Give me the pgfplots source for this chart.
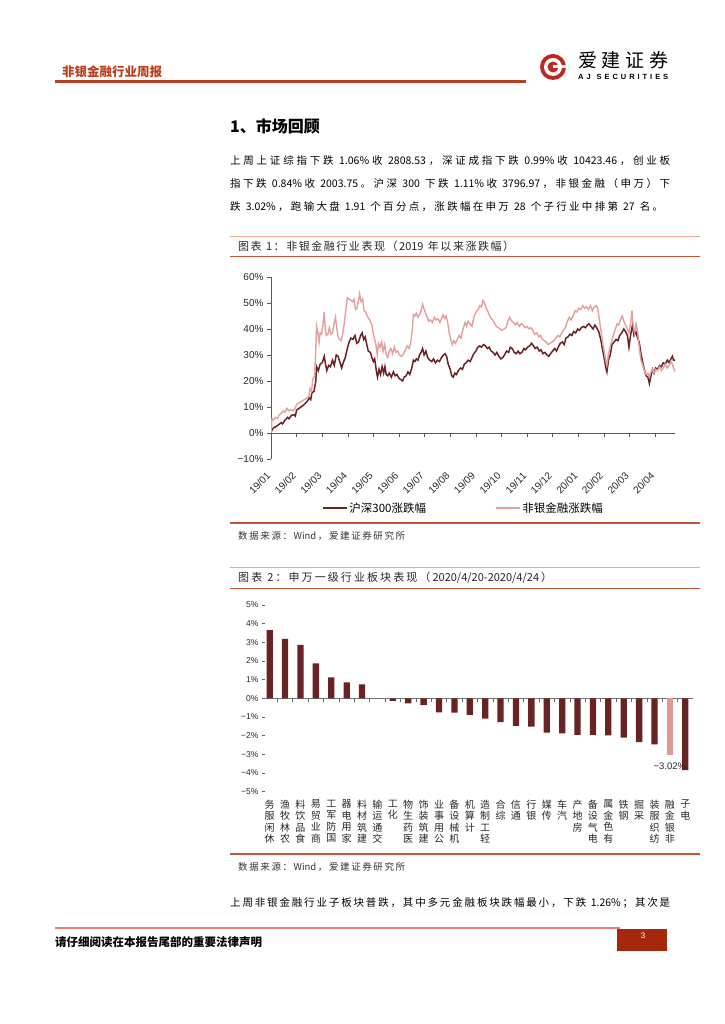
\documentclass[border=0pt]{standalone}
\usepackage{pgfplots}
\pgfplotsset{compat=1.18}
\usepackage{fontspec}
\setmainfont{Noto Sans CJK SC}
\newfontfamily\arial{Liberation Sans}
\newXeTeXintercharclass\cjkcls
\makeatletter
\count@="4E00
\loop \XeTeXcharclass\count@=\cjkcls \advance\count@ 1 \ifnum\count@<"A000 \repeat
\count@="3000
\loop \XeTeXcharclass\count@=\cjkcls \advance\count@ 1 \ifnum\count@<"3040 \repeat
\count@="FF00
\loop \XeTeXcharclass\count@=\cjkcls \advance\count@ 1 \ifnum\count@<"FFF0 \repeat
\makeatother
\XeTeXinterchartokenstate=1
\XeTeXinterchartoks\cjkcls\cjkcls={\hskip0pt plus 1pt}
\XeTeXinterchartoks 0 \cjkcls={\hskip0pt plus 1pt}
\XeTeXinterchartoks\cjkcls 0 ={\hskip0pt plus 1pt}
\definecolor{hdrred}{RGB}{184,62,30}
\definecolor{linered}{RGB}{196,84,52}
\definecolor{lightline}{RGB}{236,170,150}
\definecolor{darkbar}{RGB}{104,35,37}
\definecolor{pinkbar}{RGB}{224,152,150}
\definecolor{darkline}{RGB}{107,34,38}
\definecolor{pinkline}{RGB}{228,160,158}
\definecolor{footline}{RGB}{240,120,120}
\definecolor{pagebox}{RGB}{165,40,12}
\definecolor{logored}{RGB}{190,40,30}
\newcommand\Y[1]{\the\dimexpr 1024pt-#1pt\relax}
\begin{document}
\begin{tikzpicture}
\path[use as bounding box, fill=white] (0,0) rectangle (724pt,1024pt);
% ---------- header ----------
\node[anchor=west, text=hdrred, font=\bfseries\fontsize{12.5}{14}\selectfont, inner sep=0] at (62pt,\Y{72}) {非银金融行业周报};
\draw[hdrred, line width=3pt] (55pt,\Y{82}) -- (526pt,\Y{82});
\fill[logored] (553pt,\Y{67}) circle (13pt);
\fill[white] (553pt,\Y{67}) circle (9pt);
\fill[logored] (553pt,\Y{67}) circle (5.5pt);
\fill[white] (553pt,\Y{65.5}) rectangle (567pt,\Y{68.5});
\node[anchor=west, font=\fontsize{19}{21}\selectfont, inner sep=0] at (578pt,\Y{60}) {\makebox[90pt][s]{爱建证券}};
\node[anchor=west, font=\arial\bfseries\fontsize{7.5}{9}\selectfont, inner sep=0] at (578pt,\Y{77}) {\makebox[90pt][s]{A\hfill J\hfill\hfill S\hfill E\hfill C\hfill U\hfill R\hfill I\hfill T\hfill I\hfill E\hfill S}};
% ---------- section heading and text ----------
\node[anchor=west, font=\bfseries\fontsize{16}{18}\selectfont, inner sep=0] at (230pt,\Y{126}) {1、市场回顾};
\node[anchor=west, font=\fontsize{10.5}{12}\selectfont, inner sep=0] at (230pt,\Y{161}) {\makebox[440pt][s]{上周上证综指下跌 1.06\%收 2808.53，深证成指下跌 0.99\%收 10423.46，创业板}};
\node[anchor=west, font=\fontsize{10.5}{12}\selectfont, inner sep=0] at (230pt,\Y{184}) {\makebox[440pt][s]{指下跌 0.84\%收 2003.75。沪深 300 下跌 1.11\%收 3796.97，非银金融（申万）下}};
\node[anchor=west, font=\fontsize{10.5}{12}\selectfont, inner sep=0] at (230pt,\Y{207}) {\makebox[433pt][s]{跌 3.02\%，跑输大盘 1.91 个百分点，涨跌幅在申万 28 个子行业中排第 27 名。}};
% ---------- chart 1 frame ----------
\draw[lightline, line width=0.8pt] (230pt,\Y{236}) -- (700pt,\Y{236});
\node[anchor=west, font=\fontsize{11}{13}\selectfont, inner sep=0, text=black!85] at (238pt,\Y{246}) {\makebox[276pt][s]{图表 1：非银金融行业表现（2019 年以来涨跌幅）}};
\draw[linered, line width=1.8pt] (230pt,\Y{256.5}) -- (700pt,\Y{256.5});
\draw[linered, line width=1.5pt] (230pt,\Y{523}) -- (700pt,\Y{523});
\node[anchor=west, font=\fontsize{9.5}{11}\selectfont, inner sep=0, text=black!80] at (238pt,\Y{536}) {\makebox[167pt][s]{数据来源：Wind，爱建证券研究所}};
% ---------- chart 1 ----------
\begin{axis}[
  at={(271pt,\Y{459})}, anchor=south west,
  scale only axis, width=404pt, height=182pt,
  xmin=0, xmax=15.78, ymin=-10, ymax=60,
  axis x line=middle, axis y line=left,
  axis line style={-, draw=black!65, line width=0.6pt},
  hide obscured x ticks=false, hide obscured y ticks=false,
  xtick={0,...,15},
  xticklabels={19/01,19/02,19/03,19/04,19/05,19/06,19/07,19/08,19/09,19/10,19/11,19/12,20/01,20/02,20/03,20/04},
  ytick={-10,0,10,20,30,40,50,60},
  yticklabels={−10\%,0\%,10\%,20\%,30\%,40\%,50\%,60\%},
  tick align=outside, major tick length=4pt,
  tick style={black!65, line width=0.6pt},
  tick label style={font=\arial\fontsize{10}{12}\selectfont, text=black!85},
  xticklabel style={rotate=45, anchor=east, font=\arial\fontsize{10}{11}\selectfont},
  xticklabel shift=35pt,
  legend style={at={(axis description cs:0.118,-0.269)}, anchor=west, draw=none, fill=none, legend columns=2, font=\fontsize{11.5}{13}\selectfont, /tikz/every even column/.append style={column sep=67pt}},
  legend image code/.code={\draw[#1] (0pt,0pt) -- (24pt,0pt);},
]
\addplot[color=darkline, line width=1.5pt] coordinates {
(0.00,0.0)(0.05,1.5)(0.10,2.0)(0.20,2.5)(0.30,3.2)(0.40,4.0)(0.45,3.5)(0.55,5.0)(0.65,6.0)(0.70,5.5)
(0.80,6.8)(0.90,7.0)(0.95,6.5)(1.00,8.8)(1.10,9.5)(1.20,10.2)(1.30,11.0)(1.40,12.0)(1.50,13.5)(1.55,12.8)
(1.60,15.5)(1.68,16.0)(1.75,20.0)(1.78,25.5)(1.85,24.0)(1.92,26.5)(2.00,27.0)(2.08,29.5)(2.12,27.0)(2.18,24.0)
(2.25,26.0)(2.32,25.5)(2.40,28.0)(2.47,26.0)(2.55,30.0)(2.62,29.5)(2.70,27.0)(2.76,25.0)(2.82,27.0)(2.90,29.0)
(2.97,32.0)(3.05,35.0)(3.12,36.5)(3.20,36.0)(3.28,37.5)(3.35,34.5)(3.42,35.0)(3.50,37.5)(3.56,38.5)(3.62,36.0)
(3.68,37.0)(3.74,34.0)(3.80,31.5)(3.88,31.0)(3.94,29.0)(4.00,27.5)(4.05,28.5)(4.12,23.5)(4.16,21.5)(4.22,24.5)
(4.28,22.5)(4.34,25.5)(4.40,23.0)(4.45,25.5)(4.50,22.5)(4.56,22.0)(4.62,23.0)(4.70,21.5)(4.78,23.5)(4.85,22.0)
(4.92,22.5)(5.00,21.0)(5.08,20.5)(5.14,20.0)(5.20,21.5)(5.28,22.0)(5.35,23.5)(5.42,22.5)(5.50,25.0)(5.56,28.0)
(5.62,27.5)(5.68,28.5)(5.74,28.0)(5.80,30.0)(5.86,31.0)(5.92,32.5)(5.98,30.0)(6.05,31.5)(6.12,29.0)(6.20,28.0)
(6.28,27.5)(6.35,28.5)(6.42,27.0)(6.50,28.0)(6.58,27.5)(6.66,29.0)(6.74,30.0)(6.80,30.5)(6.86,29.5)(6.92,26.5)
(7.00,24.5)(7.06,22.0)(7.12,21.5)(7.18,23.0)(7.24,22.5)(7.32,24.0)(7.40,25.0)(7.48,24.5)(7.55,26.5)(7.62,27.0)
(7.70,28.0)(7.78,27.5)(7.85,29.0)(7.92,30.5)(8.00,31.5)(8.08,33.0)(8.15,33.5)(8.22,33.0)(8.30,34.0)(8.38,33.5)
(8.45,32.5)(8.52,33.0)(8.60,31.5)(8.68,31.0)(8.75,30.0)(8.82,31.0)(8.90,29.5)(8.98,28.5)(9.05,29.0)(9.12,30.0)
(9.20,31.5)(9.28,31.0)(9.35,33.0)(9.42,32.5)(9.50,31.0)(9.58,30.5)(9.65,31.5)(9.72,30.5)(9.80,31.0)(9.88,32.5)
(9.95,32.0)(10.02,33.0)(10.10,33.5)(10.18,34.5)(10.25,33.5)(10.32,32.5)(10.40,33.0)(10.48,31.5)(10.55,32.0)(10.62,30.5)
(10.70,31.0)(10.78,30.0)(10.85,29.5)(10.92,30.5)(11.00,31.5)(11.08,32.5)(11.15,31.5)(11.22,33.0)(11.30,34.5)(11.38,35.0)
(11.45,34.0)(11.52,36.5)(11.60,37.0)(11.68,38.0)(11.75,37.5)(11.82,39.0)(11.90,38.5)(11.98,40.0)(12.05,39.5)(12.12,40.5)
(12.20,41.0)(12.28,40.5)(12.35,41.5)(12.42,42.0)(12.50,41.0)(12.58,40.0)(12.65,41.5)(12.72,40.5)(12.80,39.0)(12.88,36.0)
(12.95,32.0)(13.02,28.5)(13.08,25.0)(13.12,23.5)(13.18,28.0)(13.25,30.0)(13.32,34.0)(13.40,35.0)(13.48,36.0)(13.55,35.5)
(13.62,37.5)(13.70,38.5)(13.78,40.0)(13.85,39.0)(13.92,37.5)(13.98,33.0)(14.05,38.0)(14.12,41.5)(14.18,37.5)(14.25,39.0)
(14.32,36.5)(14.38,35.0)(14.45,30.5)(14.52,27.0)(14.58,24.5)(14.65,22.0)(14.72,21.5)(14.78,19.0)(14.84,22.0)(14.90,24.5)
(14.96,23.0)(15.02,25.0)(15.10,24.5)(15.18,26.0)(15.25,25.5)(15.32,27.0)(15.40,26.5)(15.48,28.0)(15.55,27.0)(15.62,28.5)
(15.68,29.5)(15.72,28.0)(15.78,28.0)
};
\addlegendentry{沪深300涨跌幅}
\addplot[color=pinkline, line width=1.4pt] coordinates {
(0.00,0.0)(0.04,5.5)(0.10,5.0)(0.18,6.0)(0.25,5.5)(0.32,7.0)(0.40,7.5)(0.48,8.5)(0.55,8.0)(0.62,9.5)
(0.70,8.5)(0.78,9.0)(0.85,8.5)(0.92,9.0)(1.00,11.0)(1.08,11.5)(1.16,12.0)(1.25,12.5)(1.32,13.0)(1.40,13.5)
(1.48,14.0)(1.52,17.0)(1.58,16.0)(1.64,21.0)(1.70,22.0)(1.74,30.0)(1.78,41.0)(1.84,38.0)(1.88,35.0)(1.92,38.5)
(1.98,38.0)(2.03,42.0)(2.08,46.5)(2.12,40.0)(2.16,37.5)(2.22,38.0)(2.28,40.5)(2.34,38.0)(2.40,38.5)(2.46,42.0)
(2.52,44.5)(2.56,41.0)(2.62,37.0)(2.68,36.0)(2.74,35.5)(2.80,38.0)(2.86,42.0)(2.92,47.0)(2.98,52.0)(3.05,51.5)
(3.12,51.0)(3.18,50.5)(3.24,51.5)(3.30,47.5)(3.36,48.0)(3.42,51.0)(3.46,53.5)(3.52,50.5)(3.58,51.5)(3.64,47.0)
(3.70,46.5)(3.76,45.0)(3.82,44.0)(3.88,43.0)(3.94,41.5)(4.00,38.0)(4.05,36.0)(4.10,34.0)(4.15,30.0)(4.20,34.5)
(4.26,33.0)(4.32,35.0)(4.38,31.5)(4.44,34.0)(4.50,30.0)(4.56,29.0)(4.62,31.5)(4.68,32.5)(4.75,30.5)(4.82,33.0)
(4.88,31.0)(4.95,31.5)(5.02,30.0)(5.10,29.5)(5.18,30.5)(5.25,32.0)(5.32,33.5)(5.40,32.5)(5.46,35.0)(5.52,40.0)
(5.56,45.5)(5.62,45.0)(5.68,46.0)(5.74,44.5)(5.80,45.5)(5.86,47.0)(5.92,49.5)(5.97,48.0)(6.04,46.0)(6.10,44.5)
(6.16,43.0)(6.22,43.5)(6.30,42.5)(6.38,44.5)(6.45,43.5)(6.52,44.0)(6.60,42.5)(6.66,44.0)(6.72,45.5)(6.78,44.0)
(6.84,45.0)(6.90,42.5)(6.96,38.5)(7.02,36.0)(7.08,34.0)(7.14,35.5)(7.20,34.5)(7.28,36.0)(7.35,37.5)(7.42,36.5)
(7.50,40.0)(7.58,42.5)(7.64,41.0)(7.70,43.0)(7.78,42.0)(7.85,41.0)(7.92,44.5)(7.98,46.0)(8.04,47.0)(8.10,47.5)
(8.16,49.0)(8.22,48.5)(8.28,51.0)(8.34,50.0)(8.40,48.0)(8.46,47.0)(8.52,45.5)(8.60,44.0)(8.66,43.5)(8.72,42.5)
(8.80,41.0)(8.88,40.5)(8.95,40.0)(9.02,39.5)(9.10,40.0)(9.18,40.5)(9.25,43.0)(9.32,44.5)(9.40,43.0)(9.48,42.5)
(9.55,41.5)(9.62,42.5)(9.70,41.0)(9.78,42.0)(9.85,41.5)(9.92,40.5)(10.00,41.0)(10.08,40.0)(10.15,40.5)(10.22,39.5)
(10.30,38.0)(10.38,38.5)(10.45,37.0)(10.52,37.5)(10.60,36.0)(10.68,35.5)(10.75,35.0)(10.82,34.0)(10.90,34.5)(10.98,35.0)
(11.05,35.5)(11.12,36.5)(11.20,37.5)(11.28,37.0)(11.35,38.5)(11.42,39.5)(11.50,40.5)(11.58,43.0)(11.65,44.5)(11.72,43.5)
(11.80,45.0)(11.88,47.0)(11.95,46.5)(12.02,48.0)(12.10,47.5)(12.18,49.0)(12.25,48.0)(12.32,48.5)(12.40,47.5)(12.48,49.0)
(12.55,47.0)(12.62,48.5)(12.70,49.0)(12.76,48.0)(12.82,44.0)(12.88,40.0)(12.95,35.0)(13.02,31.0)(13.08,27.5)(13.12,26.0)
(13.18,30.0)(13.24,33.0)(13.30,35.0)(13.38,38.0)(13.45,40.0)(13.52,42.0)(13.58,41.5)(13.65,43.5)(13.72,45.0)(13.78,43.0)
(13.85,41.5)(13.92,40.0)(13.98,38.5)(14.05,42.5)(14.10,47.0)(14.15,41.0)(14.20,38.5)(14.26,42.0)(14.32,39.0)(14.38,33.0)
(14.45,28.0)(14.52,26.0)(14.58,24.0)(14.65,22.5)(14.72,23.0)(14.78,21.5)(14.84,23.5)(14.90,24.5)(14.96,23.0)(15.02,24.5)
(15.10,24.0)(15.18,25.5)(15.25,24.0)(15.32,25.0)(15.40,26.5)(15.48,25.0)(15.55,26.0)(15.62,27.5)(15.68,26.5)(15.72,25.0)
(15.78,23.5)
};
\addlegendentry{非银金融涨跌幅}
\end{axis}
% ---------- chart 2 frame ----------
\draw[lightline, line width=0.8pt] (230pt,\Y{567}) -- (700pt,\Y{567});
\node[anchor=west, font=\fontsize{11}{13}\selectfont, inner sep=0, text=black!85] at (238pt,\Y{577.5}) {\makebox[314pt][s]{图表 2：申万一级行业板块表现（2020/4/20-2020/4/24）}};
\draw[linered, line width=1.8pt] (230pt,\Y{588.5}) -- (700pt,\Y{588.5});
\draw[linered, line width=1.5pt] (230pt,\Y{854}) -- (700pt,\Y{854});
\node[anchor=west, font=\fontsize{9.5}{11}\selectfont, inner sep=0, text=black!80] at (238pt,\Y{867}) {\makebox[167pt][s]{数据来源：Wind，爱建证券研究所}};
% ---------- chart 2 ----------
\begin{axis}[
  at={(262pt,\Y{791.7})}, anchor=south west,
  scale only axis, width=431pt, height=186.7pt,
  xmin=-0.5, xmax=27.5, ymin=-5, ymax=5,
  axis x line=middle, axis y line=left,
  x axis line style={-, draw=black!55, line width=0.6pt},
  y axis line style={draw=none},
  hide obscured x ticks=false, hide obscured y ticks=false,
  ytick={-5,-4,-3,-2,-1,0,1,2,3,4,5},
  yticklabels={−5\%,−4\%,−3\%,−2\%,−1\%,0\%,1\%,2\%,3\%,4\%,5\%},
  ytick align=inside, xtick align=outside,
  major tick length=3pt, minor tick length=4pt,
  tick style={black!60, line width=0.6pt},
  every major x tick/.append style={draw=none},
  minor x tick num=1,
  xtick={0,...,27},
  xticklabels={{务\\服\\闲\\休},{渔\\牧\\林\\农},{料\\饮\\品\\食},{易\\贸\\业\\商},{工\\军\\防\\国},{器\\电\\用\\家},{料\\材\\筑\\建},{输\\运\\通\\交},{工\\化},{物\\生\\药\\医},{饰\\装\\筑\\建},{业\\事\\用\\公},{备\\设\\械\\机},{机\\算\\计},{造\\制\\工\\轻},{合\\综},{信\\通},{行\\银},{媒\\传},{车\\汽},{产\\地\\房},{备\\设\\气\\电},{属\\金\\色\\有},{铁\\钢},{掘\\采},{装\\服\\织\\纺},{融\\金\\银\\非},{子\\电}},
  tick label style={font=\arial\fontsize{8.5}{10}\selectfont, text=black!85},
  xticklabel style={font=\fontsize{10}{11.5}\selectfont, align=center, anchor=north},
  xticklabel shift=95pt,
  ybar, bar width=6.3pt, bar shift=0pt,
]
\addplot[fill=darkbar, draw=none] coordinates {
(0,3.66)(1,3.18)(2,2.86)(3,1.87)(4,1.12)(5,0.86)(6,0.75)(7,0.0)(8,-0.14)(9,-0.27)
(10,-0.36)(11,-0.75)(12,-0.77)(13,-0.89)(14,-1.09)(15,-1.27)(16,-1.47)(17,-1.52)(18,-1.84)(19,-1.88)
(20,-1.95)(21,-1.95)(22,-1.98)(23,-2.11)(24,-2.34)(25,-2.46)(27,-3.84)
};
\addplot[fill=pinkbar, draw=none, nodes near coords={\arial −3.02\%},
  every node near coord/.append style={font=\arial\fontsize{9.5}{11}\selectfont, text=black!85, anchor=north, yshift=-5pt}]
  coordinates {(26,-3.02)};
\end{axis}
% ---------- closing text and footer ----------
\node[anchor=west, font=\fontsize{10.5}{12}\selectfont, inner sep=0] at (230pt,\Y{903}) {\makebox[440pt][s]{上周非银金融行业子板块普跌，其中多元金融板块跌幅最小，下跌 1.26\%；其次是}};
\draw[footline, line width=1.2pt] (55pt,\Y{928}) -- (620pt,\Y{928});
\fill[pagebox] (617pt,\Y{929}) rectangle (667pt,\Y{951});
\node[font=\arial\fontsize{8}{9}\selectfont, text=white, inner sep=0] at (643pt,\Y{936}) {3};
\node[anchor=west, font=\bfseries\fontsize{11.5}{13}\selectfont, inner sep=0] at (55pt,\Y{942}) {请仔细阅读在本报告尾部的重要法律声明};
\end{tikzpicture}
\end{document}
